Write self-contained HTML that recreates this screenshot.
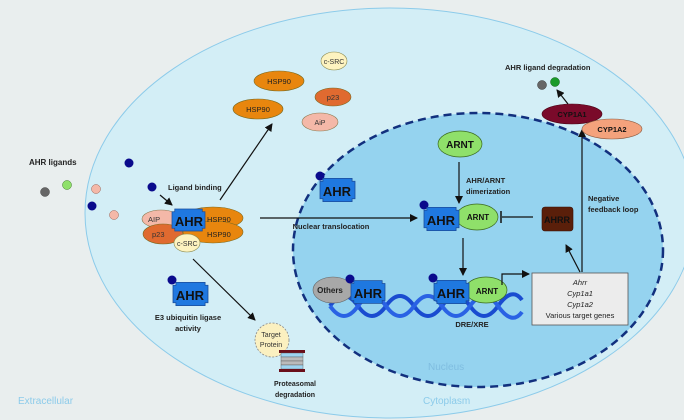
<!DOCTYPE html>
<html><head><meta charset="utf-8"><style>
html,body{margin:0;padding:0;width:684px;height:420px;overflow:hidden;background:#e9eeee}
svg{display:block}
text{font-family:"Liberation Sans",sans-serif}
</style></head><body>
<svg width="684" height="420" viewBox="0 0 684 420" xmlns="http://www.w3.org/2000/svg">
<defs>
<marker id="ar" markerWidth="8" markerHeight="8" refX="7" refY="4" orient="auto" markerUnits="userSpaceOnUse"><path d="M0,0 L8,4 L0,8 Z" fill="#111"/></marker>
<symbol id="ahr" viewBox="0 0 36 24" overflow="visible">
<polygon points="3,0 33,0 33,3 36,3 36,21 33,21 33,24 3,24 3,21 0,21 0,3 3,3" fill="#1f78e0" stroke="#1a4c9a" stroke-width="0.8"/>
</symbol>
</defs>
<rect width="684" height="420" fill="#e9eeee"/>
<ellipse cx="390" cy="213" rx="305" ry="205" fill="#d3eef6" stroke="#8ccbea" stroke-width="1"/>
<ellipse cx="478" cy="250" rx="185" ry="137" fill="#95d3ef" stroke="#12307e" stroke-width="2.5" stroke-dasharray="8,5"/>

<text x="18" y="404" font-size="10" fill="#8ccbea">Extracellular</text>
<text x="428" y="370" font-size="10" fill="#7fbde0">Nucleus</text>
<text x="423" y="404" font-size="10" fill="#8ccbea">Cytoplasm</text>

<text x="29" y="165" font-size="8" font-weight="bold" fill="#222">AHR ligands</text>
<circle cx="45" cy="192" r="4.5" fill="#666" stroke="#444" stroke-width=".5"/>
<circle cx="67" cy="185" r="4.5" fill="#8fe06a" stroke="#3a7a20" stroke-width=".5"/>
<circle cx="96" cy="189" r="4.5" fill="#f4b8a8" stroke="#a06050" stroke-width=".5"/>
<circle cx="129" cy="163" r="4.5" fill="#0a0a8c"/>
<circle cx="92" cy="206" r="4.5" fill="#0a0a8c"/>
<circle cx="114" cy="215" r="4.5" fill="#f4b8a8" stroke="#a06050" stroke-width=".5"/>
<circle cx="152" cy="187" r="4.5" fill="#0a0a8c"/>
<text x="168" y="190" font-size="7.5" font-weight="bold" fill="#222">Ligand binding</text>
<line x1="160" y1="195" x2="172" y2="205" stroke="#111" stroke-width="1.2" marker-end="url(#ar)"/>

<ellipse cx="213" cy="218" rx="30" ry="11" fill="#e8860e" stroke="#7a6a20" stroke-width=".6"/>
<ellipse cx="213" cy="232" rx="30" ry="11" fill="#e8860e" stroke="#7a6a20" stroke-width=".6"/>
<ellipse cx="161" cy="219" rx="19" ry="9" fill="#f4b8a8" stroke="#8a7a50" stroke-width=".6"/>
<ellipse cx="163" cy="234" rx="20" ry="10" fill="#e06a30" stroke="#7a6a20" stroke-width=".6"/>
<ellipse cx="187" cy="243" rx="13" ry="9" fill="#fdf3c0" stroke="#8a8a50" stroke-width=".6"/>
<text x="148" y="222" font-size="7.5" fill="#333">AIP</text>
<text x="152" y="237" font-size="7.5" fill="#333">p23</text>
<text x="177" y="246" font-size="7" fill="#333">c-SRC</text>
<text x="207" y="222" font-size="7.5" fill="#222">HSP90</text>
<text x="207" y="237" font-size="7.5" fill="#222">HSP90</text>
<use href="#ahr" x="172" y="208" width="33" height="24"/>
<text x="189" y="226" font-size="13" font-weight="bold" text-anchor="middle" fill="#111">AHR</text>

<line x1="220" y1="200" x2="272" y2="124" stroke="#111" stroke-width="1.2" marker-end="url(#ar)"/>
<ellipse cx="279" cy="81" rx="25" ry="10" fill="#e8860e" stroke="#7a6a20" stroke-width=".6"/>
<text x="279" y="84" font-size="7.5" text-anchor="middle" fill="#222">HSP90</text>
<ellipse cx="258" cy="109" rx="25" ry="10" fill="#e8860e" stroke="#7a6a20" stroke-width=".6"/>
<text x="258" y="112" font-size="7.5" text-anchor="middle" fill="#222">HSP90</text>
<ellipse cx="334" cy="61" rx="13" ry="9" fill="#fdf3c0" stroke="#8a8a50" stroke-width=".6"/>
<text x="334" y="64" font-size="7" text-anchor="middle" fill="#333">c-SRC</text>
<ellipse cx="333" cy="97" rx="18" ry="9" fill="#e06a30" stroke="#7a6a20" stroke-width=".6"/>
<text x="333" y="100" font-size="7.5" text-anchor="middle" fill="#333">p23</text>
<ellipse cx="320" cy="122" rx="18" ry="9" fill="#f4b8a8" stroke="#8a7a50" stroke-width=".6"/>
<text x="320" y="125" font-size="7" text-anchor="middle" fill="#333">AiP</text>

<circle cx="172" cy="280" r="4.5" fill="#0a0a8c"/>
<use href="#ahr" x="173" y="282" width="35" height="24"/>
<text x="190" y="300" font-size="13" font-weight="bold" text-anchor="middle" fill="#111">AHR</text>
<text x="188" y="320" font-size="7.5" font-weight="bold" text-anchor="middle" fill="#222">E3 ubiquitin ligase</text>
<text x="188" y="331" font-size="7.5" font-weight="bold" text-anchor="middle" fill="#222">activity</text>
<line x1="193" y1="259" x2="255" y2="320" stroke="#111" stroke-width="1.2" marker-end="url(#ar)"/>
<circle cx="272" cy="340" r="17" fill="#fbf0c0" stroke="#888" stroke-width=".8" stroke-dasharray="2,1.5"/>
<text x="271" y="337" font-size="7" text-anchor="middle" fill="#333">Target</text>
<text x="271" y="347" font-size="7" text-anchor="middle" fill="#333">Protein</text>
<rect x="279" y="350" width="26" height="3" fill="#6a0f1a"/>
<rect x="281" y="353" width="22" height="4" fill="#9ed4f0" stroke="#555" stroke-width=".4"/>
<rect x="281" y="357" width="22" height="4" fill="#bbb" stroke="#555" stroke-width=".4"/>
<rect x="281" y="361" width="22" height="4" fill="#bbb" stroke="#555" stroke-width=".4"/>
<rect x="281" y="365" width="22" height="4" fill="#9ed4f0" stroke="#555" stroke-width=".4"/>
<rect x="279" y="369" width="26" height="3" fill="#6a0f1a"/>
<text x="295" y="386" font-size="7" font-weight="bold" text-anchor="middle" fill="#222">Proteasomal</text>
<text x="295" y="397" font-size="7" font-weight="bold" text-anchor="middle" fill="#222">degradation</text>

<line x1="260" y1="218" x2="417" y2="218" stroke="#111" stroke-width="1.2" marker-end="url(#ar)"/>
<text x="331" y="229" font-size="7.5" font-weight="bold" text-anchor="middle" fill="#222">Nuclear translocation</text>
<circle cx="320" cy="176" r="4.5" fill="#0a0a8c"/>
<use href="#ahr" x="320" y="178" width="35" height="24"/>
<text x="337" y="196" font-size="13" font-weight="bold" text-anchor="middle" fill="#111">AHR</text>

<ellipse cx="460" cy="144" rx="22" ry="13" fill="#8fe06a" stroke="#3a6a20" stroke-width=".7"/>
<text x="460" y="148" font-size="10" font-weight="bold" text-anchor="middle" fill="#111">ARNT</text>
<line x1="459" y1="162" x2="459" y2="203" stroke="#111" stroke-width="1.2" marker-end="url(#ar)"/>
<text x="466" y="183" font-size="7.5" font-weight="bold" fill="#222">AHR/ARNT</text>
<text x="466" y="194" font-size="7.5" font-weight="bold" fill="#222">dimerization</text>

<ellipse cx="477" cy="217" rx="21" ry="13" fill="#8fe06a" stroke="#3a6a20" stroke-width=".7"/>
<circle cx="424" cy="205" r="4.5" fill="#0a0a8c"/>
<use href="#ahr" x="424" y="207" width="35" height="24"/>
<text x="441" y="225" font-size="13" font-weight="bold" text-anchor="middle" fill="#111">AHR</text>
<text x="478" y="220" font-size="8" font-weight="bold" text-anchor="middle" fill="#111">ARNT</text>
<line x1="502" y1="217" x2="533" y2="217" stroke="#111" stroke-width="1.2"/>
<line x1="501" y1="211" x2="501" y2="223" stroke="#111" stroke-width="1.5"/>
<rect x="542" y="207" width="31" height="24" rx="3" fill="#5a1f0a" stroke="#3a1005" stroke-width=".6"/>
<text x="557" y="223" font-size="9" font-weight="bold" text-anchor="middle" fill="#111">AHRR</text>
<line x1="463" y1="238" x2="463" y2="275" stroke="#111" stroke-width="1.2" marker-end="url(#ar)"/>

<!-- DNA -->
<path d="M330,306 Q344,286 358,306 Q372,326 386,306 Q400,286 414,306 Q428,326 442,306 Q456,286 470,306 Q484,326 498,306 Q512,286 522,300" fill="none" stroke="#1a4cd0" stroke-width="4"/>
<path d="M330,306 Q344,326 358,306 Q372,286 386,306 Q400,326 414,306 Q428,286 442,306 Q456,326 470,306 Q484,286 498,306 Q512,326 522,312" fill="none" stroke="#2a62e4" stroke-width="4"/>
<text x="472" y="327" font-size="7.5" font-weight="bold" text-anchor="middle" fill="#222">DRE/XRE</text>

<ellipse cx="333" cy="290" rx="20" ry="13" fill="#a8a8a8" stroke="#666" stroke-width=".6"/>
<text x="330" y="293" font-size="8" font-weight="bold" text-anchor="middle" fill="#222">Others</text>
<circle cx="350" cy="279" r="4.5" fill="#0a0a8c"/>
<use href="#ahr" x="351" y="280" width="34" height="24"/>
<text x="368" y="298" font-size="13" font-weight="bold" text-anchor="middle" fill="#111">AHR</text>
<ellipse cx="486" cy="290" rx="21" ry="13" fill="#8fe06a" stroke="#3a6a20" stroke-width=".7"/>
<circle cx="433" cy="278" r="4.5" fill="#0a0a8c"/>
<use href="#ahr" x="434" y="280" width="35" height="24"/>
<text x="451" y="298" font-size="13" font-weight="bold" text-anchor="middle" fill="#111">AHR</text>
<text x="487" y="294" font-size="8" font-weight="bold" text-anchor="middle" fill="#111">ARNT</text>
<polyline points="502,285 502,274 529,274" fill="none" stroke="#111" stroke-width="1.2" marker-end="url(#ar)"/>

<rect x="532" y="273" width="96" height="52" fill="#ececec" stroke="#555" stroke-width=".8"/>
<text x="580" y="285" font-size="7.5" font-style="italic" text-anchor="middle" fill="#222">Ahrr</text>
<text x="580" y="296" font-size="7.5" font-style="italic" text-anchor="middle" fill="#222">Cyp1a1</text>
<text x="580" y="307" font-size="7.5" font-style="italic" text-anchor="middle" fill="#222">Cyp1a2</text>
<text x="580" y="318" font-size="7.5" text-anchor="middle" fill="#222">Various target genes</text>
<line x1="580" y1="272" x2="566" y2="245" stroke="#111" stroke-width="1.2" marker-end="url(#ar)"/>
<line x1="582" y1="272" x2="582" y2="130" stroke="#111" stroke-width="1.2" marker-end="url(#ar)"/>
<text x="588" y="201" font-size="7.5" font-weight="bold" fill="#222">Negative</text>
<text x="588" y="212" font-size="7.5" font-weight="bold" fill="#222">feedback loop</text>

<ellipse cx="572" cy="114" rx="30" ry="10" fill="#7a0a2a" stroke="#4a0515" stroke-width=".6"/>
<text x="572" y="117" font-size="7.5" font-weight="bold" text-anchor="middle" fill="#111">CYP1A1</text>
<ellipse cx="612" cy="129" rx="30" ry="10" fill="#f4a27c" stroke="#8a5a40" stroke-width=".6"/>
<text x="612" y="132" font-size="7.5" font-weight="bold" text-anchor="middle" fill="#111">CYP1A2</text>
<line x1="568" y1="104" x2="557" y2="90" stroke="#111" stroke-width="1.2" marker-end="url(#ar)"/>
<circle cx="542" cy="85" r="4.5" fill="#666" stroke="#333" stroke-width=".5"/>
<circle cx="555" cy="82" r="4.5" fill="#1a9a2a" stroke="#0a5a10" stroke-width=".5"/>
<text x="505" y="70" font-size="7.5" font-weight="bold" fill="#222">AHR ligand degradation</text>
</svg>
</body></html>
